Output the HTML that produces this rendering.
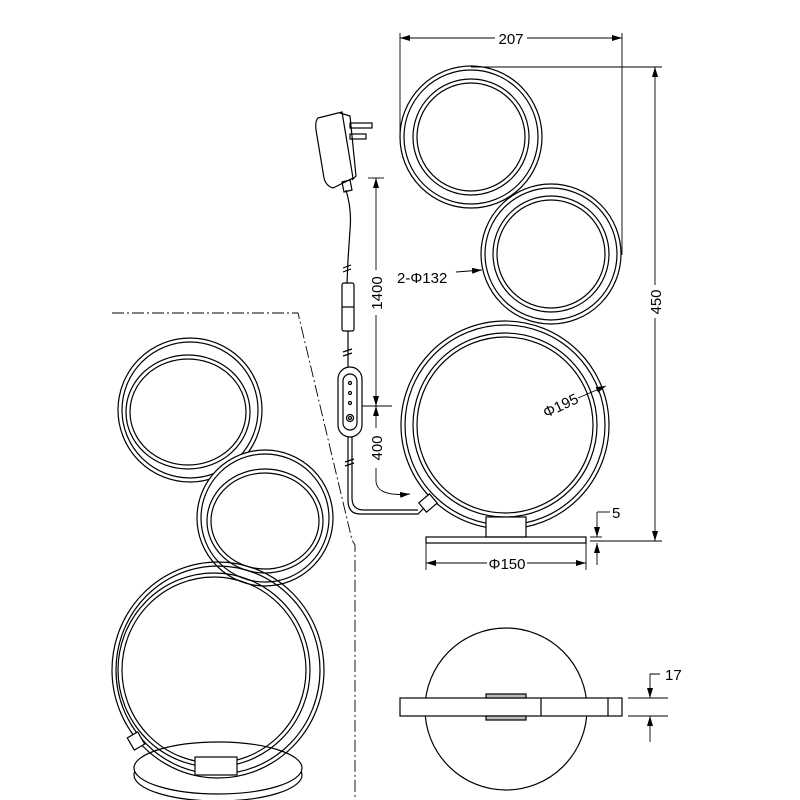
<!DOCTYPE html>
<html><head><meta charset="utf-8"><style>
html,body{margin:0;padding:0;background:#fff}
svg{display:block}
text{font-family:"Liberation Sans",sans-serif;font-size:15px;fill:#000}
</style></head><body>
<svg width="800" height="800" viewBox="0 0 800 800" xmlns="http://www.w3.org/2000/svg">
<defs>
<marker id="a" viewBox="0 0 10 6" refX="10" refY="3" markerWidth="10" markerHeight="6" orient="auto-start-reverse" markerUnits="userSpaceOnUse"><path d="M0,0 L10,3 L0,6 z" fill="#000"/></marker>
</defs>
<g fill="none" stroke="#000" stroke-width="1.2">
<circle cx="471" cy="137" r="71"/><circle cx="471" cy="137" r="67"/>
<circle cx="471" cy="137" r="58"/><circle cx="471" cy="137" r="54"/>
<circle cx="551" cy="254" r="70" fill="#fff"/><circle cx="551" cy="254" r="66"/>
<circle cx="551" cy="254" r="58"/><circle cx="551" cy="254" r="54"/>
<circle cx="505" cy="425" r="104"/><circle cx="505" cy="425" r="100"/>
<circle cx="505" cy="425" r="92"/><circle cx="505" cy="425" r="88"/>
<rect x="486" y="517" width="40" height="20" fill="#fff"/>
<rect x="426" y="537" width="160" height="6"/>
<rect x="421" y="497" width="14" height="12" transform="rotate(-40 428 503)" fill="#fff"/>
<line x1="400" y1="33" x2="400" y2="135" stroke-width="0.9"/>
<line x1="622" y1="33" x2="622" y2="255" stroke-width="0.9"/>
<line x1="400" y1="38" x2="495" y2="38" marker-start="url(#a)" stroke-width="0.9"/>
<line x1="527" y1="38" x2="622" y2="38" marker-end="url(#a)" stroke-width="0.9"/>
<line x1="471" y1="67" x2="662" y2="67" stroke-width="0.9"/>
<line x1="590" y1="541" x2="662" y2="541" stroke-width="0.9"/>
<line x1="655" y1="67" x2="655" y2="285" marker-start="url(#a)" stroke-width="0.9"/>
<line x1="655" y1="318" x2="655" y2="541" marker-end="url(#a)" stroke-width="0.9"/>
<line x1="597" y1="512" x2="610" y2="512" stroke-width="0.9"/>
<line x1="597" y1="512" x2="597" y2="537" marker-end="url(#a)" stroke-width="0.9"/>
<line x1="597" y1="565" x2="597" y2="543" marker-end="url(#a)" stroke-width="0.9"/>
<line x1="590" y1="537" x2="602" y2="537" stroke-width="0.9"/>
<line x1="426" y1="543" x2="426" y2="570" stroke-width="0.9"/>
<line x1="586" y1="543" x2="586" y2="570" stroke-width="0.9"/>
<line x1="426" y1="563" x2="487" y2="563" marker-start="url(#a)" stroke-width="0.9"/>
<line x1="527" y1="563" x2="586" y2="563" marker-end="url(#a)" stroke-width="0.9"/>
<line x1="456" y1="272" x2="482" y2="270" marker-end="url(#a)" stroke-width="0.9"/>
<line x1="578" y1="398" x2="606" y2="386" marker-end="url(#a)" stroke-width="0.9"/>
<path d="M318,118 L342,112 L353,178 L333,188 Q326,186 324,178 L316,130 Q315,121 318,118 Z" fill="#fff"/>
<path d="M340,113 L350,116 L356,176 L352,180"/>
<rect x="350" y="123" width="22" height="5"/><rect x="350" y="134" width="16" height="5"/>
<path d="M342,182 L350,180 L352,190 L344,192 Z"/>
<path d="M346,190 Q352,210 350,230 L348,260 L347,283"/>
<path d="M343,268 l8,-3 M343,272 l8,-3"/>
<rect x="342" y="283" width="12" height="48" rx="2" fill="#fff"/>
<line x1="342" y1="307" x2="354" y2="307"/>
<path d="M348,331 L348,368"/>
<path d="M343,352 l9,-3 M343,356 l9,-3"/>
<rect x="338" y="367" width="24" height="70" rx="12" fill="#fff"/>
<rect x="343" y="374" width="14" height="56" rx="7"/>
<circle cx="350" cy="383" r="1.5"/><circle cx="350" cy="393" r="1.5"/><circle cx="350" cy="403" r="1.5"/>
<circle cx="350" cy="418" r="3.5"/><circle cx="350" cy="418" r="1.5"/>
<path d="M348,437 L348,500 Q348,514 360,514 L418,514 L424,508"/>
<path d="M352,437 L352,498 Q352,510 364,510 L418,510"/>
<path d="M345,462 l9,-3 M345,466 l9,-3"/>
<line x1="368" y1="178" x2="384" y2="178" stroke-width="0.9"/>
<line x1="362" y1="406" x2="392" y2="406" stroke-width="0.9"/>
<line x1="376" y1="178" x2="376" y2="270" marker-start="url(#a)" stroke-width="0.9"/>
<line x1="376" y1="315" x2="376" y2="406" marker-end="url(#a)" stroke-width="0.9"/>
<line x1="376" y1="428" x2="376" y2="406" marker-end="url(#a)" stroke-width="0.9"/>
<path d="M376,468 L376,482 Q378,497 410,494" marker-end="url(#a)" stroke-width="0.9"/>
<path d="M112,313 L298,313 L352,540 L355,545 L355,800" stroke-width="0.9" stroke-dasharray="12,3,2,3"/>
<circle cx="190" cy="410" r="72"/><circle cx="190" cy="410" r="68"/>
<ellipse cx="188" cy="412" rx="62" ry="57"/><ellipse cx="188" cy="412" rx="58" ry="53"/>
<circle cx="265" cy="518" r="68" fill="#fff"/><circle cx="265" cy="518" r="64"/>
<ellipse cx="265" cy="521" rx="58" ry="52"/><ellipse cx="265" cy="521" rx="54" ry="48"/>
<ellipse cx="218" cy="775" rx="84" ry="26" fill="#fff"/>
<ellipse cx="218" cy="768" rx="84" ry="26" fill="#fff"/>
<ellipse cx="218" cy="670" rx="102" ry="104"/>
<ellipse cx="218" cy="670" rx="106" ry="108"/>
<ellipse cx="214" cy="670" rx="96" ry="97"/><ellipse cx="214" cy="670" rx="92" ry="93"/>
<rect x="195" y="757" width="42" height="18" fill="#fff"/>
<rect x="130" y="734" width="12" height="14" transform="rotate(-30 136 741)" fill="#fff"/>
<circle cx="506" cy="709" r="81"/>
<rect x="400" y="698" width="222" height="18" fill="#fff"/>
<rect x="486" y="694" width="40" height="4" fill="#bbb"/>
<rect x="486" y="716" width="40" height="4" fill="#bbb"/>
<line x1="541" y1="698" x2="541" y2="716"/><line x1="608" y1="698" x2="608" y2="716"/>
<line x1="628" y1="698" x2="668" y2="698" stroke-width="0.9"/>
<line x1="628" y1="716" x2="668" y2="716" stroke-width="0.9"/>
<path d="M660,674 L650,674 L650,698" marker-end="url(#a)" stroke-width="0.9"/>
<line x1="650" y1="742" x2="650" y2="716" marker-end="url(#a)" stroke-width="0.9"/>
</g>
<text x="511" y="44" text-anchor="middle">207</text>
<text transform="translate(661,302) rotate(-90)" text-anchor="middle">450</text>
<text x="612" y="518">5</text>
<text x="507" y="569" text-anchor="middle">Φ150</text>
<text x="397" y="283">2-Φ132</text>
<text transform="translate(546,418) rotate(-25)">Φ195</text>
<text transform="translate(382,293) rotate(-90)" text-anchor="middle">1400</text>
<text transform="translate(382,448) rotate(-90)" text-anchor="middle">400</text>
<text x="665" y="680">17</text>
</svg>
</body></html>
